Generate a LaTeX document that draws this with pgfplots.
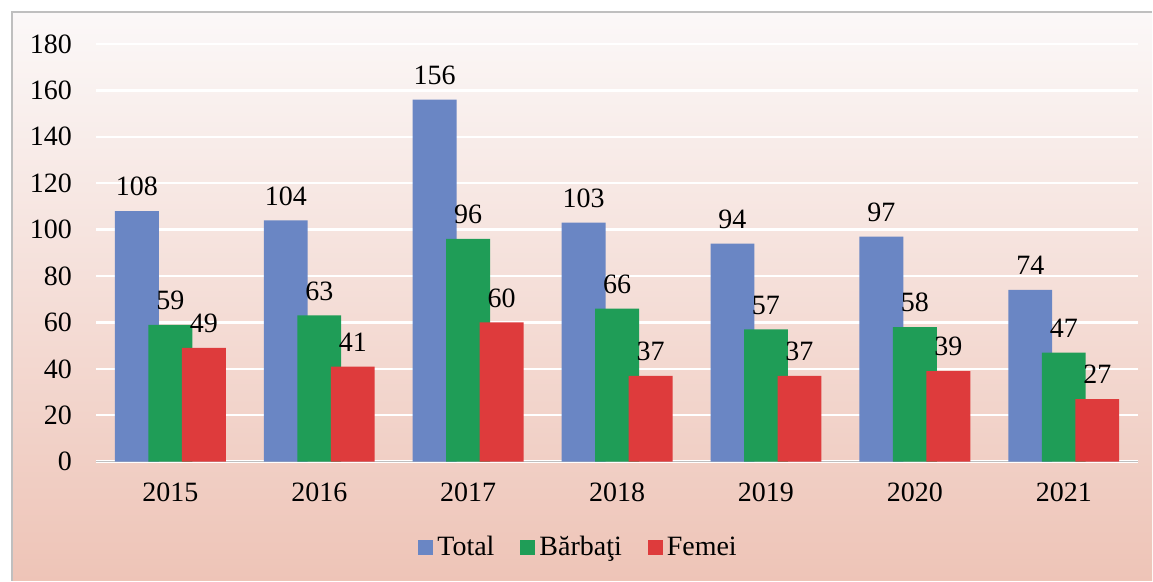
\documentclass[border=0pt]{standalone}
\usepackage{pgfplots}
\pgfplotsset{compat=1.18}
\usepackage{fontspec}
\setmainfont{Liberation Serif}
\definecolor{cTotal}{RGB}{106,134,196}
\definecolor{cB}{RGB}{31,157,87}
\definecolor{cF}{RGB}{222,59,60}
\definecolor{bgTop}{RGB}{251,248,248}
\definecolor{bgMid}{RGB}{245,226,221}
\definecolor{bgBot}{RGB}{238,196,183}
\begin{document}
\begin{tikzpicture}[font=\fontsize{14}{16}\selectfont]
% picture: 1 px = 0.5pt ; origin = axis south-west corner (pixel 96,462)
\fill[white] (-48pt,-59.5pt) rectangle (528.5pt,231pt);
\shade[top color=bgTop, middle color=bgMid, bottom color=bgBot] (-42pt,-59.5pt) rectangle (528.5pt,225pt);
\draw[black!25, line width=0.8pt] (-42pt,-59.5pt) -- (-42pt,225pt) -- (528.5pt,225pt);
\begin{axis}[
  at={(0pt,0pt)}, anchor=south west,
  scale only axis, width=521.5pt, height=209pt,
  xmin=-0.5, xmax=6.5, ymin=0, ymax=180,
  xtick={0,...,6}, xticklabels={2015,2016,2017,2018,2019,2020,2021},
  ytick={0,20,...,180},
  /pgf/number format/assume math mode=true,
  axis x line*=bottom, axis y line*=left,
  x axis line style={draw=black!25, line width=0.8pt},
  y axis line style={draw=none},
  major tick length=0pt,
  ymajorgrids, grid style={white, line width=1.2pt},
  yticklabel style={xshift=-8.5pt},
  xticklabel style={yshift=-7pt},
  nodes near coords,
  nodes near coords style={anchor=south, yshift=4pt, text=black},
  legend style={at={(0.464,-0.206)}, anchor=center, draw=none, fill=none,
    legend columns=3, /tikz/every even column/.append style={column sep=11pt}},
  legend image code/.code={\fill[#1] (0pt,-3.75pt) rectangle (7.5pt,3.75pt);},
]
\addplot[ybar, bar width=0.295, bar shift=-0.225, fill=cTotal, draw=none,
  every node near coord/.append style={xshift=-16.76pt}]
  coordinates {(0,108) (1,104) (2,156) (3,103) (4,94) (5,97) (6,74)};
\addplot[ybar, bar width=0.295, bar shift=0, fill=cB, draw=none]
  coordinates {(0,59) (1,63) (2,96) (3,66) (4,57) (5,58) (6,47)};
\addplot[ybar, bar width=0.295, bar shift=0.225, fill=cF, draw=none,
  every node near coord/.append style={xshift=16.76pt}]
  coordinates {(0,49) (1,41) (2,60) (3,37) (4,37) (5,39) (6,27)};
\legend{Total, Bărbaţi, Femei}
\end{axis}
\end{tikzpicture}
\end{document}
